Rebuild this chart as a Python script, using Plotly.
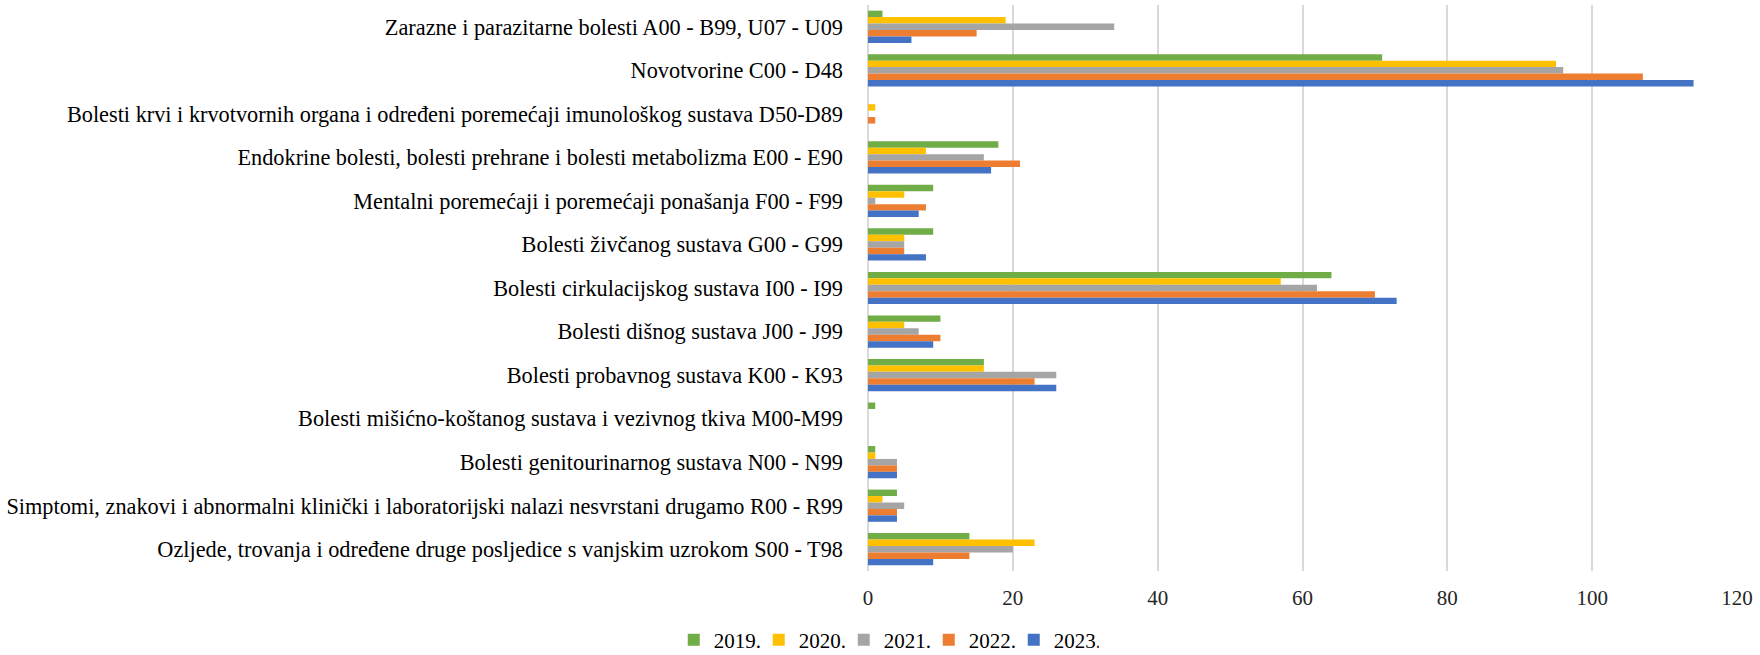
import plotly.graph_objects as go

categories = [
    "Zarazne i parazitarne bolesti A00 - B99, U07 - U09",
    "Novotvorine C00 - D48",
    "Bolesti krvi i krvotvornih organa i određeni poremećaji imunološkog sustava D50-D89",
    "Endokrine bolesti, bolesti prehrane i bolesti metabolizma E00 - E90",
    "Mentalni poremećaji i poremećaji ponašanja F00 - F99",
    "Bolesti živčanog sustava G00 - G99",
    "Bolesti cirkulacijskog sustava I00 - I99",
    "Bolesti dišnog sustava J00 - J99",
    "Bolesti probavnog sustava K00 - K93",
    "Bolesti mišićno-koštanog sustava i vezivnog tkiva M00-M99",
    "Bolesti genitourinarnog sustava N00 - N99",
    "Simptomi, znakovi i abnormalni klinički i laboratorijski nalazi nesvrstani drugamo R00 - R99",
    "Ozljede, trovanja i određene druge posljedice s vanjskim uzrokom S00 - T98",
]

years = ["2019.", "2020.", "2021.", "2022.", "2023."]
v2019 = [2, 71, 0, 18, 9, 9, 64, 10, 16, 1, 1, 4, 14]
v2020 = [19, 95, 1, 8, 5, 5, 57, 5, 16, 0, 1, 2, 23]
v2021 = [34, 96, 0, 16, 1, 5, 62, 7, 26, 0, 4, 5, 20]
v2022 = [15, 107, 1, 21, 8, 5, 70, 10, 23, 0, 4, 4, 14]
v2023 = [6, 114, 0, 17, 7, 8, 73, 9, 26, 0, 4, 4, 9]
series = [v2019, v2020, v2021, v2022, v2023]
colors = ["#70AD47", "#FFC000", "#A5A5A5", "#ED7D31", "#4472C4"]

tick_vals = [0, 20, 40, 60, 80, 100, 120]

fig = go.Figure()
for name, vals, col in zip(years, series, colors):
    fig.add_trace(go.Bar(
        y=categories, x=vals, name=name, orientation="h",
        marker=dict(color=col, line=dict(width=0)),
    ))

FAM = "'Liberation Serif', 'Times New Roman', serif"
fig.update_layout(
    width=1760, height=655,
    paper_bgcolor="white", plot_bgcolor="white",
    barmode="group", bargap=0.26, bargroupgap=0,
    margin=dict(l=868, r=23, t=5, b=84, autoexpand=False),
    font=dict(family=FAM, size=20, color="black"),
    xaxis=dict(
        range=[0, 120], tickvals=tick_vals, showgrid=True,
        gridcolor="#D9D9D9", gridwidth=2, zeroline=True,
        zerolinecolor="#D9D9D9", zerolinewidth=2,
        tickfont=dict(family=FAM, size=21, color="#262626"), ticks="",
        showline=False, ticklabelstandoff=12, automargin=False,
    ),
    yaxis=dict(
        autorange="reversed", showgrid=False, ticks="",
        tickfont=dict(family=FAM, size=22.3, color="black"), ticklabelstandoff=24,
        automargin=False,
    ),
    legend=dict(
        orientation="h", x=0.021, xanchor="center",
        y=-0.122, yanchor="middle",
        font=dict(family=FAM, size=21, color="black"), traceorder="normal",
        entrywidth=40, entrywidthmode="pixels",
    ),
    showlegend=True,
)

fig.write_html("out.html", post_script="document.body.style.margin='0';",
               config={"displayModeBar": False})
